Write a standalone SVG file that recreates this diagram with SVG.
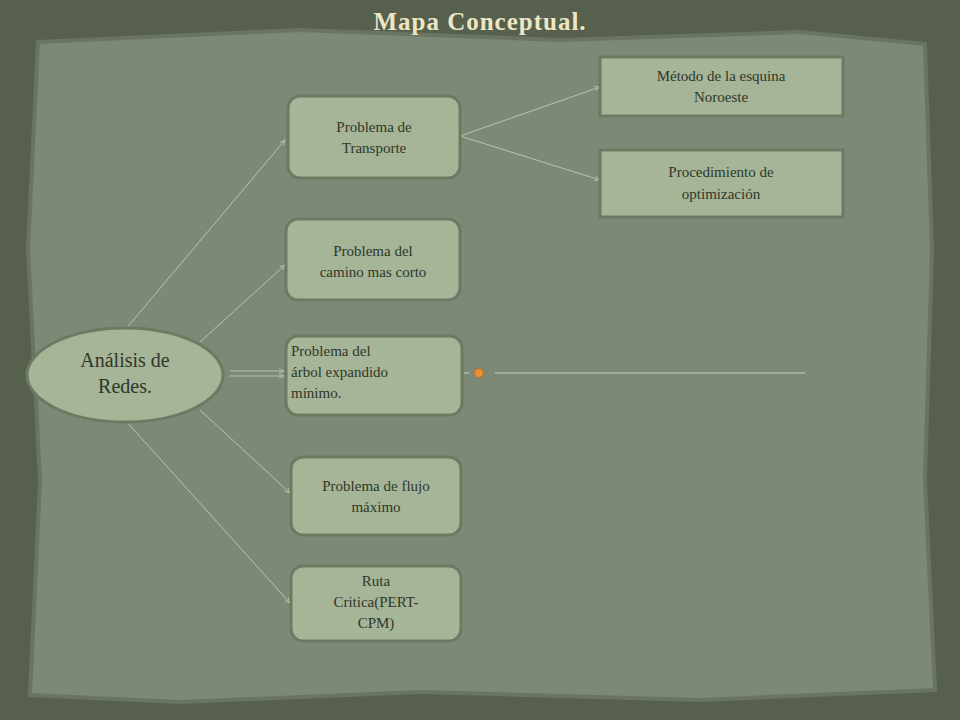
<svg xmlns="http://www.w3.org/2000/svg" width="960" height="720" viewBox="0 0 960 720">
<defs>
<style>
.box{fill:#a6b498;stroke:#6c7a62;stroke-width:3}
.t{font-family:"Liberation Serif",serif;font-size:15px;fill:#2e3829;text-anchor:middle}
.l{text-anchor:start}
.big{font-size:20px}
.c{stroke:#b8c4ac;stroke-width:1;fill:none;marker-end:url(#a)}
</style>
<marker id="a" viewBox="0 0 10 10" refX="9" refY="5" markerWidth="6" markerHeight="6" orient="auto"><path d="M0,1 L9,5 L0,9" fill="none" stroke="#b8c4ac" stroke-width="1.5"/></marker>
</defs>
<rect width="960" height="720" fill="#56604c"/>
<path d="M38,42 L300,30 L560,40 L800,32 L925,44 L932,250 L925,480 L935,690 L700,700 L420,692 L180,702 L30,695 L40,480 L28,250 Z" fill="#7d8877" stroke="#6a7463" stroke-width="4"/>
<text x="480" y="30" font-family="Liberation Serif,serif" font-size="25" font-weight="bold" fill="#ece6c4" text-anchor="middle" letter-spacing="1">Mapa Conceptual.</text>
<g id="connectors">
<path class="c" d="M125,330 L285,140"/>
<path class="c" d="M200,342 L285,265"/>
<path class="c" d="M230,371 L284,371"/>
<path class="c" d="M230,376 L284,376"/>
<path class="c" d="M200,410 L290,493"/>
<path class="c" d="M125,420 L290,603"/>
<path class="c" d="M460,136 L600,87"/>
<path class="c" d="M460,136 L600,180"/>
<path d="M495,373 L805,373" stroke="#c4cebb" stroke-width="1"/>
<path d="M464,373 L469,373" stroke="#c4cebb" stroke-width="1"/>
</g>
<circle cx="479" cy="373" r="4.5" fill="#e8913a" stroke="#c06e20"/>
<g id="redes"><ellipse cx="125" cy="375" rx="98" ry="47" class="box"/>
<text class="t big" x="125" y="367">Análisis de</text><text class="t big" x="125" y="393">Redes.</text></g>
<g id="transporte"><rect x="288" y="96" width="172" height="82" rx="12" class="box"/>
<text class="t" x="374" y="132">Problema de</text><text class="t" x="374" y="153">Transporte</text></g>
<g id="camino"><rect x="286" y="219" width="174" height="81" rx="12" class="box"/>
<text class="t" x="373" y="256">Problema del</text><text class="t" x="373" y="277">camino mas corto</text></g>
<g id="arbol"><rect x="286" y="336" width="176" height="79" rx="12" class="box"/>
<text class="t l" x="291" y="356">Problema del</text><text class="t l" x="291" y="377">árbol expandido</text><text class="t l" x="291" y="398">mínimo.</text></g>
<g id="flujo"><rect x="291" y="457" width="170" height="78" rx="12" class="box"/>
<text class="t" x="376" y="491">Problema de flujo</text><text class="t" x="376" y="512">máximo</text></g>
<g id="ruta"><rect x="291" y="566" width="170" height="75" rx="12" class="box"/>
<text class="t" x="376" y="586">Ruta</text><text class="t" x="376" y="607">Critica(PERT-</text><text class="t" x="376" y="628">CPM)</text></g>
<g id="metodo"><rect x="600" y="57" width="243" height="59" class="box"/>
<text class="t" x="721" y="81">Método de la esquina</text><text class="t" x="721" y="102">Noroeste</text></g>
<g id="optim"><rect x="600" y="150" width="243" height="67" class="box"/>
<text class="t" x="721" y="177">Procedimiento de</text><text class="t" x="721" y="199">optimización</text></g>
</svg>
